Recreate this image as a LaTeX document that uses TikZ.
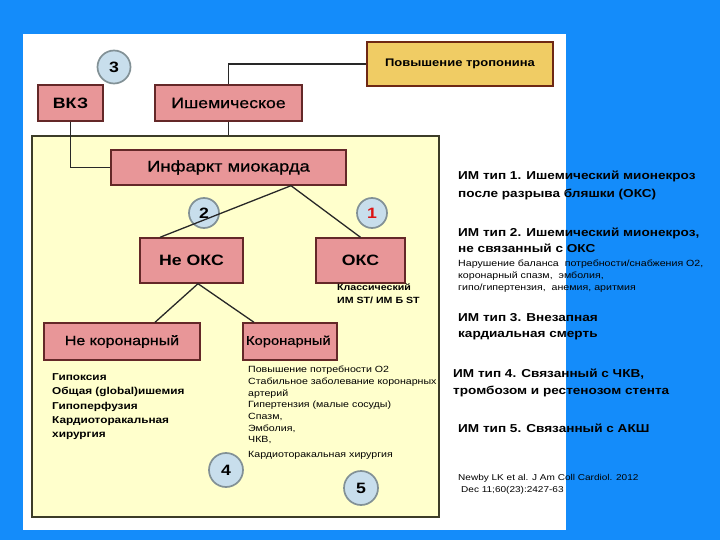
\documentclass[tikz,border=0pt]{standalone}
\usepackage{fontspec}
\setmainfont{Liberation Sans}[FakeStretch=1.18]
\newfontfamily\medfont{Liberation Sans}[FakeStretch=1.18, FakeBold=0.6]
\definecolor{bgblue}{RGB}{20,140,250}
\definecolor{pinkfill}{RGB}{232,150,152}
\definecolor{pinkdraw}{RGB}{100,40,40}
\definecolor{yfill}{RGB}{255,255,204}
\definecolor{ydraw}{RGB}{60,60,40}
\definecolor{tropofill}{RGB}{240,204,100}
\definecolor{tropodraw}{RGB}{110,40,20}
\definecolor{circfill}{RGB}{200,222,236}
\definecolor{circdraw}{RGB}{130,145,150}
\definecolor{linec}{RGB}{40,40,40}
\definecolor{numred}{RGB}{220,20,20}
\newcommand{\fs}[2]{\fontsize{#1}{#2}\selectfont}
\begin{document}
\begin{tikzpicture}[x=1pt,y=-1pt,
  pbox/.style={draw=pinkdraw, fill=pinkfill, line width=1.4pt, inner sep=0pt},
  num/.style={circle, draw=circdraw, fill=circfill, line width=1.7pt, inner sep=0pt, font=\fs{15}{15}\bfseries},
  conn/.style={draw=linec, line width=1.3pt},
  txt/.style={inner sep=0pt, anchor=north west, align=left}]
\useasboundingbox (0,0) rectangle (720,540);
\fill[bgblue] (0,0) rectangle (720,540);
\fill[white] (23,34) rectangle (566,530);
% yellow panel
\node[draw=ydraw, fill=yfill, line width=1.3pt, inner sep=0pt,
      minimum width=407pt, minimum height=381pt] (panel) at (235.5,326.5) {};
% top boxes
\node[pbox, minimum width=65pt, minimum height=36pt, font=\fs{15}{15}\bfseries] (vkz) at (70.5,103) {ВКЗ};
\node[pbox, minimum width=147pt, minimum height=36pt, font=\medfont\fs{15}{15}] (isch) at (228.5,103) {Ишемическое};
\node[draw=tropodraw, fill=tropofill, line width=2pt, inner sep=0pt,
      minimum width=186pt, minimum height=44pt, font=\fs{11}{11}\bfseries] (tropo) at (460,64) {Повышение тропонина};
\node[num, minimum size=33pt] (c3) at (114,67) {3};
% inside panel
\node[pbox, minimum width=235pt, minimum height=35pt, font=\medfont\fs{15.5}{15.5}] (inf) at (228.5,167.5) {Инфаркт миокарда};
\node[pbox, minimum width=103pt, minimum height=45pt, font=\fs{15}{15}\bfseries] (neoks) at (191.5,260.5) {Не ОКС};
\node[pbox, minimum width=89pt, minimum height=45pt, font=\fs{15}{15}\bfseries] (oks) at (360.5,260.5) {ОКС};
\node[pbox, minimum width=156pt, minimum height=37pt, font=\medfont\fs{13.5}{13.5}] (nekor) at (122,341.5) {Не коронарный};
\node[pbox, minimum width=94pt, minimum height=37pt, font=\medfont\fs{12.5}{12.5},
      text width=88pt, align=left] (kor) at (290,341.5) {Коронарный};
\node[num, minimum size=30pt] (c2) at (204,213) {2};
\node[num, minimum size=30pt, text=numred] (c1) at (372,213) {1};
\node[num, minimum size=34pt] (c4) at (226,470) {4};
\node[num, minimum size=34pt] (c5) at (361,488) {5};
% connectors
\draw[conn] (isch.north) |- (tropo.west);
\draw[conn] (isch.south) -- (isch.south |- panel.north);
\draw[conn] (vkz.south) |- (inf.west);
\coordinate (infb) at ([xshift=62.5pt]inf.south);
\coordinate (neoksb) at ([xshift=6.5pt]neoks.south);
\draw[conn] (infb) -- ([xshift=-31.5pt]neoks.north);
\draw[conn] (infb) -- (oks.north);
\draw[conn] (neoksb) -- ([xshift=33pt]nekor.north);
\draw[conn] (neoksb) -- ([xshift=-36pt]kor.north);
% texts in panel
\node[txt, font=\fs{9}{13}\bfseries] (classic) at (337,283.8) {Классический\\ИМ ST/ ИМ Б ST};
\node[txt, font=\fs{10}{14.3}\bfseries] (leftlist) at (52,373.4)
  {Гипоксия\\Общая (global)ишемия\\Гипоперфузия\\Кардиоторакальная\\хирургия};
\node[txt, font=\fs{9}{11.7}] (rightlist) at (248,365.8)
  {Повышение потребности О2\\Стабильное заболевание коронарных\\артерий\\Гипертензия (малые сосуды)\\Спазм,\\Эмболия,\\ЧКВ,\\[3.4pt]Кардиоторакальная хирургия};
% right column
\node[txt, font=\fs{11.5}{18}\bfseries] (t1) at (458,170.9) {ИМ тип 1. Ишемический мионекроз\\после разрыва бляшки (ОКС)};
\node[txt, font=\fs{11.5}{16}\bfseries] (t2) at (458,227.9) {ИМ тип 2. Ишемический мионекроз,\\не связанный с ОКС};
\node[txt, font=\fs{9}{12}] (t2s) at (458,259.8) {Нарушение баланса~ потребности/снабжения О2,\\коронарный спазм,~ эмболия,\\гипо/гипертензия,~ анемия, аритмия};
\node[txt, font=\fs{11.5}{16}\bfseries] (t3) at (458,312.9) {ИМ тип 3. Внезапная\\кардиальная смерть};
\node[txt, font=\fs{11.5}{17}\bfseries] (t4) at (453,368.9) {ИМ тип 4. Связанный с ЧКВ,\\тромбозом и рестенозом стента};
\node[txt, font=\fs{11.5}{16}\bfseries] (t5) at (458,423.9) {ИМ тип 5. Связанный с АКШ};
\node[txt, font=\fs{8.5}{12}] (ref) at (458,474) {Newby LK et al. J Am Coll Cardiol. 2012\\\hspace*{3pt}Dec 11;60(23):2427-63};
\end{tikzpicture}
\end{document}
